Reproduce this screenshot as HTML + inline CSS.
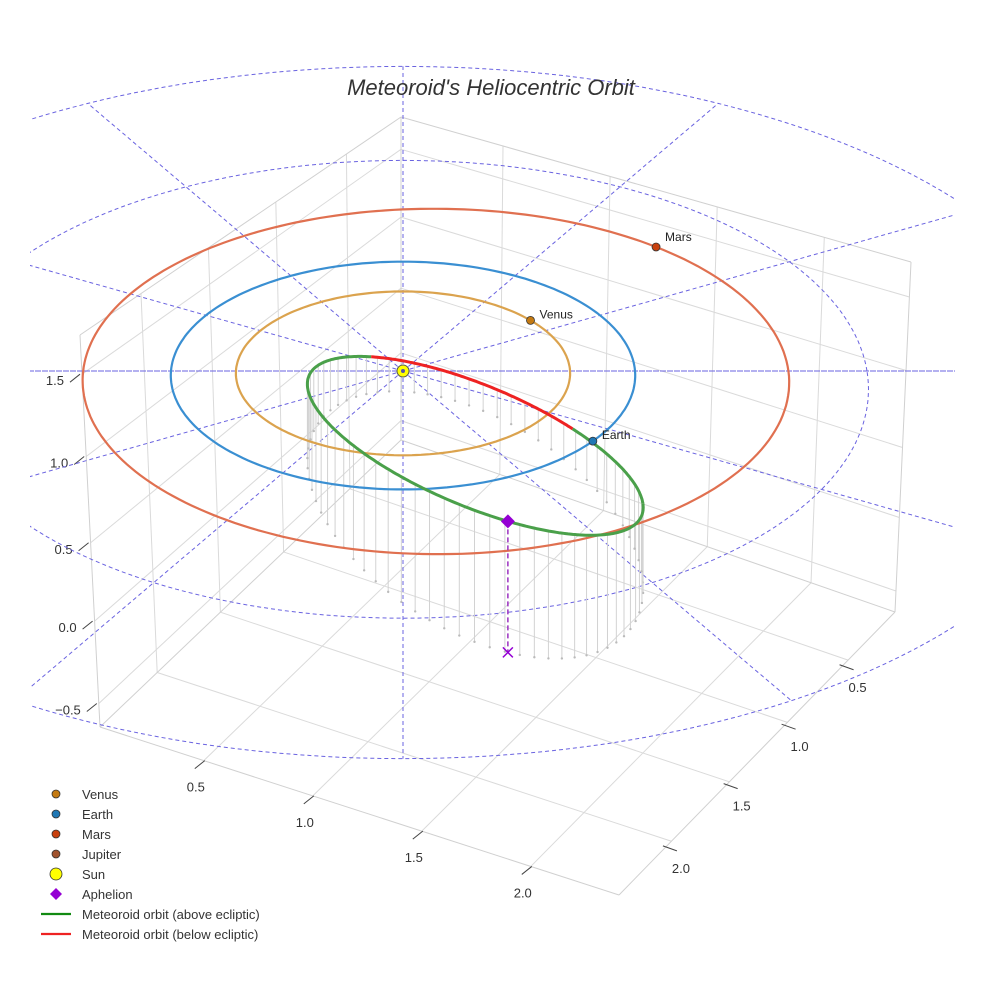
<!DOCTYPE html>
<html><head><meta charset="utf-8">
<style>
html,body{margin:0;padding:0;background:#fff;}
svg{display:block;font-family:"Liberation Sans",sans-serif;}
</style></head>
<body>
<svg id="chart" width="984" height="984" viewBox="0 0 984 984" xmlns="http://www.w3.org/2000/svg">
<defs><clipPath id="clip"><rect x="30" y="0" width="925" height="984"/></clipPath></defs>
<rect width="984" height="984" fill="#fff"/>
<g id="grid"></g>
<g id="guides" clip-path="url(#clip)"></g>
<g id="drops"></g>
<g id="orbits"></g>
<g id="marks"></g>
<text x="491" y="95" text-anchor="middle" font-size="22" font-style="italic" fill="#333">Meteoroid's Heliocentric Orbit</text>
<g id="legend" font-size="13" fill="#333"></g>
</svg>
<script>
// ---- data ----
const planetNames = ["Venus", "Earth", "Mars"];
const planetA = [0.72, 1.0, 1.52];
const planetEcc = [0.0, 0.0, 0.093];
const planetPeriDeg = [0, 0, 180];
const planetAngleDeg = [39, -37, 45];
const planetOrbitColors = ["#dba34e", "#3a8fd2", "#e07050"];
const planetMarkerColors = ["#c47a12", "#1f77b4", "#c8400e"];
// meteoroid orbit: 3D ellipse (centre + two semi-axis vectors, AU)
const meteorCenter = [0.285, -0.93, 0.228];
const meteorAxisA = [0.69, -0.50, 0.0];
const meteorAxisB = [0.0, -0.95, 0.29];
const aphelionT = 79;
const floorZ = -0.224;
const guideRadii = [1, 2, 3];
const guideAnglesDeg = [0, 30, 60, 90, 120, 150, 180, 210, 240, 270, 300, 330];
const xTickLabels = ["0.5", "1.0", "1.5", "2.0"];
const yTickLabels = ["2.0", "1.5", "1.0", "0.5"];
const zTickLabels = ["\u22120.5", "0.0", "0.5", "1.0", "1.5"];
const legendLabels = ["Venus", "Earth", "Mars", "Jupiter", "Sun", "Aphelion", "Meteoroid orbit (above ecliptic)", "Meteoroid orbit (below ecliptic)"];

const NS = "http://www.w3.org/2000/svg";
function mk(tag, attrs, parent) {
  const e = document.createElementNS(NS, tag);
  for (const k in attrs) e.setAttribute(k, attrs[k]);
  parent.appendChild(e);
  return e;
}
const CX = 403, CY = 371, S = 232, K = 113.7, SZ = 164, D = 25;
function proj(X, Y, Z) {
  const f = D / (D + Y);
  return [CX + f * S * X, CY - f * (K * Y + SZ * Z)];
}
function pts(arr) { return arr.map(p => p[0].toFixed(1) + "," + p[1].toFixed(1)).join(" "); }
const rad = d => d * Math.PI / 180;

// ---- grid box (decorative) ----
const grid = document.getElementById("grid");
const L = [100, 727], F = [619, 895], R = [895, 612], B = [401, 440];
const Lt = [80, 335], Bt = [401, 117], Rt = [911, 262];
const lerp = (a, b, t) => [a[0] + (b[0] - a[0]) * t, a[1] + (b[1] - a[1]) * t];
function floorPt(s, t) { return lerp(lerp(L, F, s), lerp(B, R, s), t); }
function gl(a, b, c) {
  const l = mk("line", {x1: a[0], y1: a[1], x2: b[0], y2: b[1], stroke: c || "#dadada", "stroke-width": 1}, grid);
  
  
}
const xs = [0.2, 0.41, 0.62, 0.83], ys = [0.17, 0.39, 0.6, 0.81], zs = [0.06, 0.27, 0.47, 0.69, 0.9];
xs.forEach(s => gl(floorPt(s, 0), floorPt(s, 1)));
ys.forEach(t => gl(floorPt(1, 1 - t), floorPt(0, 1 - t)));
ys.forEach(t => { const p = lerp(L, B, 1 - t), q = lerp(Lt, Bt, 1 - t); gl(p, q); });
xs.forEach(s => { const p = lerp(B, R, s), q = lerp(Bt, Rt, s); gl(p, q); });
zs.forEach(h => {
  const a = lerp(L, Lt, h), b = lerp(B, Bt, h), c = lerp(R, Rt, h);
  gl(a, b); gl(b, c);
});
[[L, F], [F, R], [R, B], [B, L], [L, Lt], [B, Bt], [R, Rt], [Lt, Bt], [Bt, Rt]].forEach(e => gl(e[0], e[1], "#d0d0d0"));
function tl(txt, x, y, anchor) {
  const t = mk("text", {x: x, y: y, "text-anchor": anchor || "middle", "font-size": 13, fill: "#333"}, grid);
  t.textContent = txt;
  
  
}
xs.forEach((s, i) => {
  const p = floorPt(s, 0);
  gl([p[0] - 9, p[1] + 8], [p[0] + 1, p[1]], "#444");
  tl(xTickLabels[i], p[0] - 8, p[1] + 31);
});
ys.forEach((t, i) => {
  const p = lerp(F, R, t);
  gl([p[0] - 3, p[1] - 1], [p[0] + 11, p[1] + 4], "#444");
  tl(yTickLabels[i], p[0] + 15, p[1] + 26);
});
zs.forEach((h, i) => {
  const p = lerp(L, Lt, h);
  gl([p[0] - 12, p[1] + 8], [p[0] - 2, p[1]], "#444");
  tl(zTickLabels[i], p[0] - 18, p[1] + 11, "end");
});

// ---- guides ----
const guides = document.getElementById("guides");
guideRadii.forEach(r => {
  const arr = [];
  for (let i = 0; i <= 240; i++) { const a = 2 * Math.PI * i / 240; arr.push(proj(r * Math.cos(a), r * Math.sin(a), 0)); }
  const p = mk("polyline", {points: pts(arr), fill: "none", stroke: "#6a63e0", "stroke-width": 1, "stroke-dasharray": "4,3"}, guides);
  
  
});
const rMax = guideRadii[guideRadii.length - 1];
guideAnglesDeg.forEach(d => {
  const arr = [];
  for (let i = 0; i <= 30; i++) { const r = rMax * i / 30; arr.push(proj(r * Math.cos(rad(d)), r * Math.sin(rad(d)), 0)); }
  const p = mk("polyline", {points: pts(arr), fill: "none", stroke: "#6a63e0", "stroke-width": 1, "stroke-dasharray": "4,3"}, guides);
  
  
});
const hl = mk("line", {x1: 30, y1: CY, x2: 955, y2: CY, stroke: "#6a63e0", "stroke-width": 1, "stroke-dasharray": "4,3"}, guides);



// ---- planet orbits ----
const orbits = document.getElementById("orbits");
const marks = document.getElementById("marks");
function planetR(i, th) {
  const a = planetA[i], e = planetEcc[i];
  return a * (1 - e * e) / (1 + e * Math.cos(th - rad(planetPeriDeg[i])));
}
planetNames.forEach((n, i) => {
  const arr = [];
  for (let k = 0; k <= 240; k++) { const th = 2 * Math.PI * k / 240, r = planetR(i, th); arr.push(proj(r * Math.cos(th), r * Math.sin(th), 0)); }
  const p = mk("polyline", {points: pts(arr), fill: "none", stroke: planetOrbitColors[i], "stroke-width": 2.2}, orbits);
  
  
});

// ---- meteoroid orbit ----
function metPos(t) {
  return [0, 1, 2].map(k => meteorCenter[k] + meteorAxisA[k] * Math.cos(t) + meteorAxisB[k] * Math.sin(t));
}
const drops = document.getElementById("drops");
for (let k = 0; k < 72; k++) {
  const P = metPos(2 * Math.PI * k / 72);
  const a = proj(P[0], P[1], P[2]), b = proj(P[0], P[1], floorZ);
  const l = mk("line", {x1: a[0], y1: a[1], x2: b[0], y2: b[1], stroke: "#d2d2d2", "stroke-width": 1}, drops);
  
  
  const c = mk("circle", {cx: b[0], cy: b[1], r: 1.2, fill: "#bbb"}, drops);
  
  
}
let seg = [], segAbove = null;
function flush() {
  if (seg.length > 1) {
    const p = mk("polyline", {points: pts(seg), fill: "none", stroke: segAbove ? "#4aa04a" : "#ee2222", "stroke-width": 3, "stroke-linejoin": "round"}, orbits);
    
    
  }
}
for (let k = 0; k <= 400; k++) {
  const P = metPos(2 * Math.PI * k / 400), s = proj(P[0], P[1], P[2]), above = P[2] >= 0;
  if (segAbove === null) segAbove = above;
  if (above !== segAbove) { seg.push(s); flush(); seg = [s]; segAbove = above; } else seg.push(s);
}
flush();

// ---- markers ----
const aph = metPos(rad(aphelionT));
const ap = proj(aph[0], aph[1], aph[2]), af = proj(aph[0], aph[1], floorZ);
const adl = mk("line", {x1: ap[0], y1: ap[1], x2: af[0], y2: af[1], stroke: "#9b30c0", "stroke-width": 1.5, "stroke-dasharray": "5,3"}, marks);


const ax = mk("path", {d: `M${af[0]-5},${af[1]-5}L${af[0]+5},${af[1]+5}M${af[0]+5},${af[1]-5}L${af[0]-5},${af[1]+5}`, stroke: "#9400d3", "stroke-width": 1.5}, marks);


const ad = mk("path", {d: `M${ap[0]},${ap[1]-7}L${ap[0]+7},${ap[1]}L${ap[0]},${ap[1]+7}L${ap[0]-7},${ap[1]}Z`, fill: "#9400d3"}, marks);


const sun = mk("circle", {cx: CX, cy: CY, r: 6, fill: "#ffff00", stroke: "#555", "stroke-width": 1}, marks);


const sunc = mk("circle", {cx: CX, cy: CY, r: 2, fill: "#5555aa"}, marks);


planetNames.forEach((nm, i) => {
  const th = rad(planetAngleDeg[i]), r = planetR(i, th);
  const p = proj(r * Math.cos(th), r * Math.sin(th), 0);
  const c = mk("circle", {cx: p[0], cy: p[1], r: 4, fill: planetMarkerColors[i], stroke: "#333", "stroke-width": 0.8}, marks);
  
  
  const t = mk("text", {x: p[0] + 9, y: p[1] + (i === 2 ? -6 : -2), "font-size": 12, fill: "#222"}, marks);
  t.textContent = nm;
  
  
});

// ---- legend ----
const lg = document.getElementById("legend");
const legendColors = ["#c47a12", "#1f77b4", "#c8400e", "#a0522d", "#ffff00", "#9400d3", "#128a12", "#ee2222"];
legendLabels.forEach((lab, i) => {
  const y = 794 + i * 20;
  const g = mk("g", {}, lg);
  
  
  if (i < 4) mk("circle", {cx: 56, cy: y, r: 4, fill: legendColors[i], stroke: "#333", "stroke-width": 0.8}, g);
  else if (i === 4) mk("circle", {cx: 56, cy: y, r: 6, fill: legendColors[i], stroke: "#333", "stroke-width": 0.8}, g);
  else if (i === 5) mk("path", {d: `M56,${y-6}L62,${y}L56,${y+6}L50,${y}Z`, fill: legendColors[i]}, g);
  else mk("line", {x1: 41, y1: y, x2: 71, y2: y, stroke: legendColors[i], "stroke-width": 2.2}, g);
  const t = mk("text", {x: 82, y: y + 5, "font-size": 13, fill: "#333"}, g);
  t.textContent = lab;
});
</script>
</body></html>
